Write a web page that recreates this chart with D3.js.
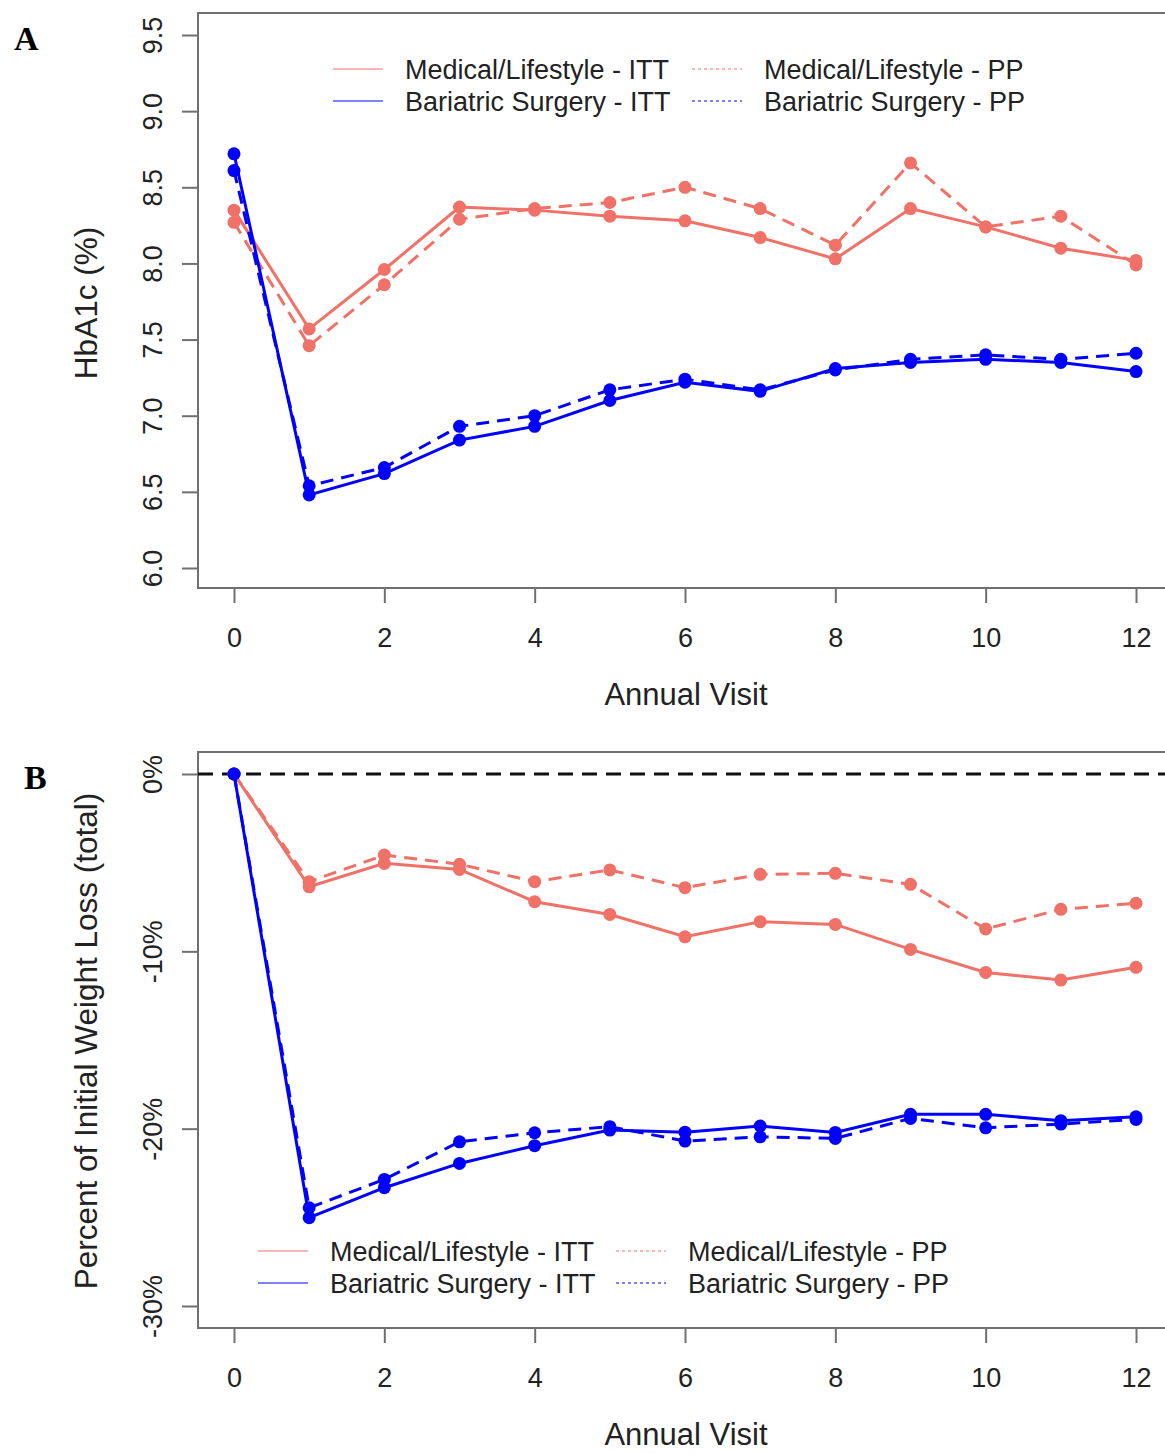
<!DOCTYPE html>
<html>
<head>
<meta charset="utf-8">
<script src="https://cdn.jsdelivr.net/npm/d3@7"></script>
<style>
  body { margin: 0; background: #fff; }
  svg { display: block; font-family: "Liberation Sans", Arial, sans-serif; }
</style>
</head>
<body>
<svg id="chart" width="1165" height="1453"></svg>
<script>
// annual visits
const visits = [0, 1, 2, 3, 4, 5, 6, 7, 8, 9, 10, 11, 12];

// panel A: HbA1c (%)
const hbaMedItt = [8.35, 7.57, 7.96, 8.37, 8.35, 8.31, 8.28, 8.17, 8.03, 8.36, 8.24, 8.10, 8.02];
const hbaMedPp  = [8.27, 7.46, 7.86, 8.29, 8.36, 8.40, 8.50, 8.36, 8.12, 8.66, 8.24, 8.31, 7.99];
const hbaSurItt = [8.72, 6.48, 6.62, 6.84, 6.93, 7.10, 7.22, 7.16, 7.31, 7.35, 7.37, 7.35, 7.29];
const hbaSurPp  = [8.61, 6.54, 6.66, 6.93, 7.00, 7.17, 7.24, 7.17, 7.30, 7.37, 7.40, 7.37, 7.41];

// panel B: percent of initial weight loss
const wlMedItt = [0, -6.36, -5.04, -5.38, -7.20, -7.92, -9.18, -8.33, -8.48, -9.89, -11.19, -11.62, -10.90];
const wlMedPp  = [0, -6.07, -4.57, -5.09, -6.07, -5.41, -6.41, -5.66, -5.60, -6.22, -8.74, -7.63, -7.29];
const wlSurItt = [0, -25.02, -23.33, -21.96, -20.96, -20.08, -20.20, -19.85, -20.21, -19.19, -19.19, -19.55, -19.33];
const wlSurPp  = [0, -24.46, -22.86, -20.74, -20.23, -19.89, -20.70, -20.46, -20.55, -19.42, -19.95, -19.74, -19.48];

const xTicks = [0, 2, 4, 6, 8, 10, 12];
const hbaTicks = [6.0, 6.5, 7.0, 7.5, 8.0, 8.5, 9.0, 9.5];
const wlTicks = [-30, -20, -10, 0];

const legendLabels = ["Medical/Lifestyle - ITT", "Bariatric Surgery - ITT",
                      "Medical/Lifestyle - PP", "Bariatric Surgery - PP"];

const RED = "#f07167", BLUE = "#0000ff", FRAME = "#707070";

const svg = d3.select("#chart");
const x = d3.scaleLinear().domain([0, 12]).range([234, 1136]);

function drawPanel(opt) {
    const g = svg.append("g");
    const y = d3.scaleLinear().domain(opt.yDomain).range(opt.yRange);

    // plot frame (right side runs past the picture edge)
    g.append("rect")
        .attr("x", 198).attr("y", opt.top)
        .attr("width", 1000).attr("height", opt.bottom - opt.top)
        .attr("fill", "none").attr("stroke", FRAME).attr("stroke-width", 2);

    // x axis
    const xa = g.append("g")
        .attr("transform", "translate(0," + opt.bottom + ")")
        .call(d3.axisBottom(x).tickValues(xTicks).tickSize(15).tickSizeOuter(0));
    xa.select(".domain").remove();
    xa.selectAll("line").attr("stroke", FRAME).attr("stroke-width", 2);
    xa.selectAll("text")
        .attr("y", 59).attr("dy", 0)
        .attr("fill", "#222").attr("font-size", 27)
        .attr("font-family", "Liberation Sans, Arial, sans-serif");

    // y axis with rotated labels
    const ya = g.append("g")
        .attr("transform", "translate(198,0)")
        .call(d3.axisLeft(y).tickValues(opt.yTicks).tickSize(16).tickSizeOuter(0)
            .tickFormat(opt.fmt));
    ya.select(".domain").remove();
    ya.selectAll("line").attr("stroke", FRAME).attr("stroke-width", 2);
    ya.selectAll("text")
        .attr("x", 0).attr("y", -36).attr("dy", 0)
        .attr("text-anchor", "middle")
        .attr("transform", "rotate(-90)")
        .attr("fill", "#222").attr("font-size", 27)
        .attr("font-family", "Liberation Sans, Arial, sans-serif");

    // axis titles
    g.append("text")
        .attr("x", 686).attr("y", opt.bottom + 117)
        .attr("text-anchor", "middle")
        .attr("font-size", 31).attr("fill", "#222")
        .text("Annual Visit");
    g.append("text")
        .attr("transform", "translate(97," + opt.titleY + ") rotate(-90)")
        .attr("text-anchor", "middle")
        .attr("font-size", 31.5).attr("fill", "#222")
        .text(opt.yTitle);

    // panel letter
    g.append("text")
        .attr("x", opt.letterX).attr("y", opt.top + 37)
        .attr("font-family", "Liberation Serif, Times New Roman, serif")
        .attr("font-weight", "bold").attr("font-size", 34)
        .text(opt.letter);

    if (opt.zeroLine) {
        g.append("line")
            .attr("x1", 198).attr("x2", 1165)
            .attr("y1", y(0)).attr("y2", y(0))
            .attr("stroke", "#111").attr("stroke-width", 3)
            .attr("stroke-dasharray", "15,9");
    }

    const line = d3.line().x((d, i) => x(visits[i])).y(d => y(d));

    opt.series.forEach(s => {
        g.append("path")
            .datum(s.values)
            .attr("d", line)
            .attr("fill", "none")
            .attr("stroke", s.color)
            .attr("stroke-width", 3)
            .attr("stroke-dasharray", s.dashed ? "13,8" : null);
        g.append("g").selectAll("circle")
            .data(s.values)
            .enter().append("circle")
            .attr("cx", (d, i) => x(visits[i]))
            .attr("cy", d => y(d))
            .attr("r", 6.5)
            .attr("fill", s.color);
    });

    // legend
    const lg = g.append("g");
    const legItems = [
        { label: legendLabels[0], color: RED, dashed: false, col: 0, row: 0 },
        { label: legendLabels[1], color: BLUE, dashed: false, col: 0, row: 1 },
        { label: legendLabels[2], color: RED, dashed: true, col: 1, row: 0 },
        { label: legendLabels[3], color: BLUE, dashed: true, col: 1, row: 1 }
    ];
    legItems.forEach(d => {
        const lx = opt.legX[d.col], ly = opt.legY + d.row * 32;
        lg.append("line")
            .attr("x1", lx).attr("x2", lx + 50)
            .attr("y1", ly).attr("y2", ly)
            .attr("stroke", d.color).attr("stroke-opacity", 0.5)
            .attr("stroke-width", 2)
            .attr("stroke-dasharray", d.dashed ? "3,3" : null);
        lg.append("text")
            .attr("x", lx + 72).attr("y", ly + 10)
            .attr("font-size", 27).attr("fill", "#222")
            .text(d.label);
    });
}

drawPanel({
    letter: "A", letterX: 14,
    top: 13, bottom: 588,
    yDomain: [6, 9.5], yRange: [568, 35],
    yTicks: hbaTicks, fmt: d3.format(".1f"),
    yTitle: "HbA1c (%)", titleY: 303,
    legX: [333, 692], legY: 69,
    series: [
        { values: hbaMedItt, color: RED, dashed: false },
        { values: hbaMedPp, color: RED, dashed: true },
        { values: hbaSurItt, color: BLUE, dashed: false },
        { values: hbaSurPp, color: BLUE, dashed: true }
    ]
});

drawPanel({
    letter: "B", letterX: 24,
    top: 752, bottom: 1328,
    yDomain: [-30, 0], yRange: [1306, 774],
    yTicks: wlTicks, fmt: d => d + "%",
    yTitle: "Percent of Initial Weight Loss (total)", titleY: 1041,
    zeroLine: true,
    legX: [258, 616], legY: 1251,
    series: [
        { values: wlMedItt, color: RED, dashed: false },
        { values: wlMedPp, color: RED, dashed: true },
        { values: wlSurItt, color: BLUE, dashed: false },
        { values: wlSurPp, color: BLUE, dashed: true }
    ]
});
</script>
</body>
</html>
